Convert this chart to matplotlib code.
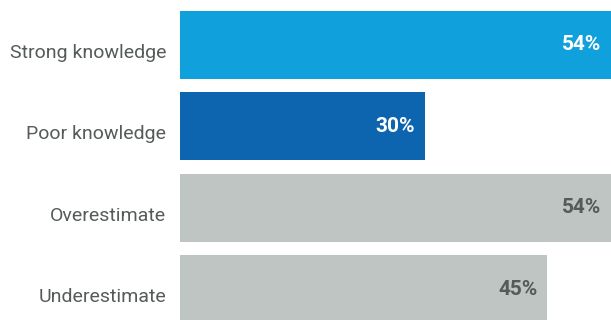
import matplotlib.pyplot as plt
import matplotlib.transforms as mtransforms

categories = ['Strong knowledge', 'Poor knowledge', 'Overestimate', 'Underestimate']
values = [54, 30, 54, 45]
labels = ['54%', '30%', '54%', '45%']
bar_colors = ['#10a0dc', '#0d65b0', '#bec5c2', '#bec5c2']
text_colors = ['white', 'white', '#555a5a', '#555a5a']

plt.rcParams['font.family'] = ['Roboto', 'DejaVu Sans']

fig = plt.figure(figsize=(6.11, 3.2), dpi=100)
ax = fig.add_axes([180 / 611, 0, 1 - 180 / 611, 1])

xmax = 431 / 8.16
y = range(len(categories))
ax.barh(y, values, height=0.836, color=bar_colors)
ax.set_xlim(0, xmax)
ax.set_ylim(3.381, -0.553)

for i, (v, lab, tc) in enumerate(zip(values, labels, text_colors)):
    ax.annotate(lab, (min(v, xmax), i), xytext=(-7, 0), textcoords='offset points',
                ha='right', va='center', color=tc, fontsize=15, fontweight='bold')

ax.set_yticks(list(y))
ax.set_yticklabels(categories, fontsize=14, color='#555a5a')
ax.tick_params(axis='y', length=0, pad=10)
shift = mtransforms.ScaledTranslation(0, -0.06, fig.dpi_scale_trans)
for t in ax.get_yticklabels():
    t.set_transform(t.get_transform() + shift)
ax.set_xticks([])
for s in ax.spines.values():
    s.set_visible(False)

fig.savefig('out.png', dpi=100)
